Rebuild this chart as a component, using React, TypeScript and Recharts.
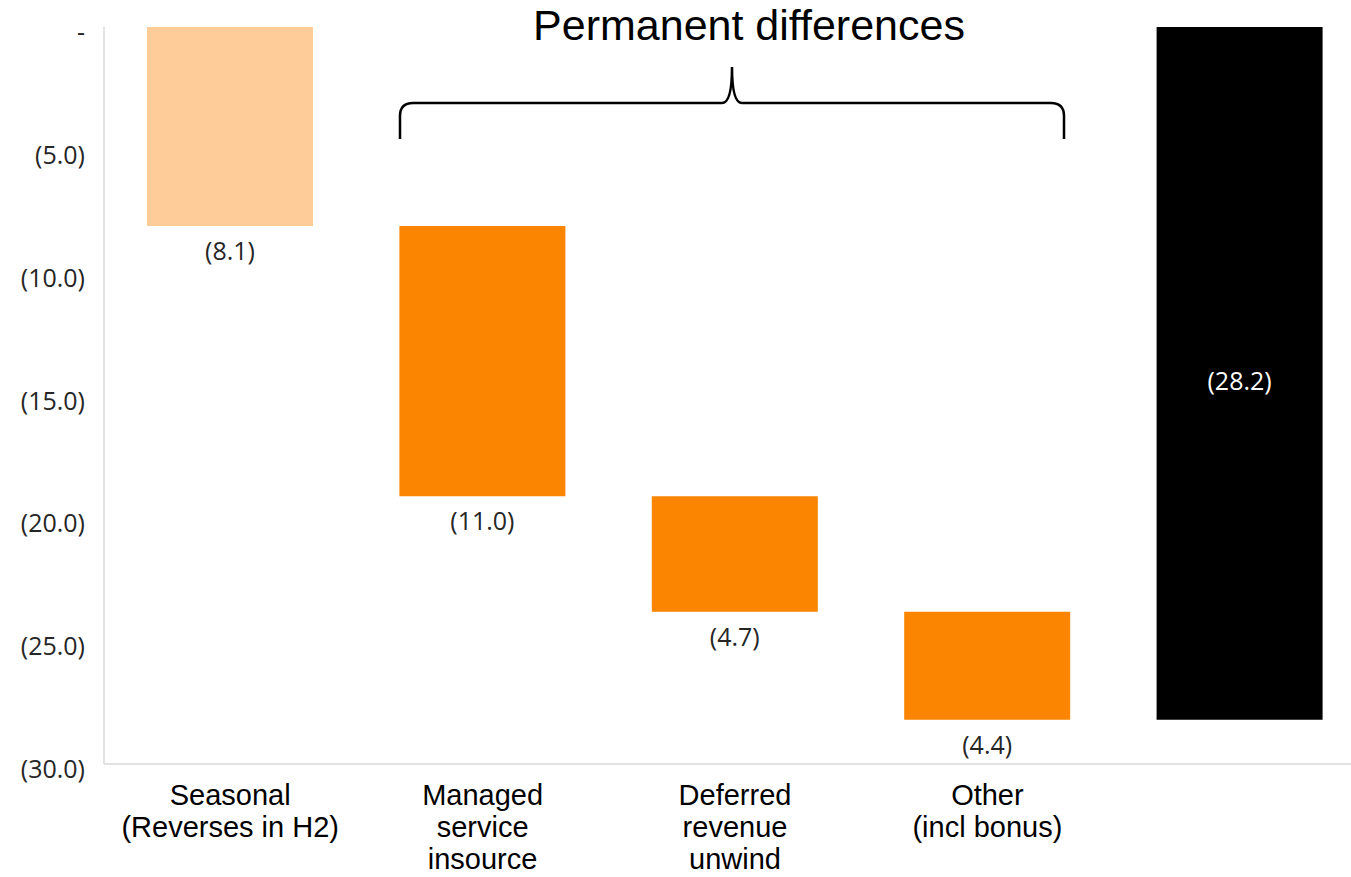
import React from "react";
import { BarChart, Bar, XAxis, YAxis, Cell, LabelList } from "recharts";

const categories = [
  "Seasonal\n(Reverses in H2)",
  "Managed\nservice\ninsource",
  "Deferred\nrevenue\nunwind",
  "Other\n(incl bonus)",
  "",
];
const baseValues = [0, -8.1, -19.1, -23.8, 0];
const deltaValues = [-8.1, -11.0, -4.7, -4.4, -28.2];
const barColors = ["#FDCC99", "#FB8500", "#FB8500", "#FB8500", "#000000"];
const yTicks = [0, -5, -10, -15, -20, -25, -30];
const annotationTitle = "Permanent differences";

const data = categories.map((c, i) => ({
  name: c,
  base: baseValues[i],
  delta: deltaValues[i],
}));

const fmt = (v: number) => (v === 0 ? "-" : `(${Math.abs(v).toFixed(1)})`);

const YTick = (props: any) => {
  const { x, y, payload } = props;
  return (
    <text
      x={x}
      y={y}
      dy={14}
      textAnchor="end"
      fontFamily="'Open Sans', sans-serif"
      fontSize={25}
      fill="#262626"
    >
      {fmt(payload.value)}
    </text>
  );
};

const XTick = (props: any) => {
  const { x, y, payload } = props;
  const lines = String(payload.value).split("\n").filter((l) => l.length);
  return (
    <text
      x={x}
      y={y}
      textAnchor="middle"
      fontFamily="'Liberation Sans', Arial, sans-serif"
      fontSize={29}
      fill="#000"
    >
      {lines.map((l, i) => (
        <tspan key={i} x={x} y={y + 41 + i * 32}>
          {l}
        </tspan>
      ))}
    </text>
  );
};

const BarLabel = (props: any) => {
  const { x, y, width, height, index } = props;
  const top = Math.min(y, y + height);
  const bottom = Math.max(y, y + height);
  const cx = x + width / 2;
  const text = fmt(deltaValues[index]);
  if (index === categories.length - 1) {
    return (
      <text
        x={cx}
        y={(top + bottom) / 2 + 17}
        textAnchor="middle"
        fontFamily="'Open Sans', sans-serif"
        fontSize={25}
        fill="#ffffff"
      >
        {text}
      </text>
    );
  }
  return (
    <text
      x={cx}
      y={bottom + 34}
      textAnchor="middle"
      fontFamily="'Open Sans', sans-serif"
      fontSize={25}
      fill="#262626"
    >
      {text}
    </text>
  );
};

export default function App() {
  return (
    <div
      style={{
        position: "absolute",
        left: 0,
        top: 0,
        width: 1351,
        height: 877,
        overflow: "hidden",
        background: "#fff",
      }}
    >
      <BarChart
        width={1366}
        height={877}
        data={data}
        margin={{ top: 27, right: 0, bottom: 0, left: 0 }}
      >
        <XAxis
          dataKey="name"
          height={113}
          tick={<XTick />}
          tickLine={false}
          tickSize={0}
          tickMargin={0}
          interval={0}
          axisLine={{ stroke: "#d9d9d9", strokeWidth: 1.5 }}
        />
        <YAxis
          width={104}
          domain={[-30, 0]}
          ticks={yTicks}
          tick={<YTick />}
          tickLine={false}
          tickSize={0}
          tickMargin={19}
          interval={0}
          axisLine={{ stroke: "#d9d9d9", strokeWidth: 1.5 }}
          allowDataOverflow
        />
        <Bar dataKey="base" stackId="w" fill="transparent" barSize={166} isAnimationActive={false} />
        <Bar dataKey="delta" stackId="w" barSize={166} isAnimationActive={false}>
          {data.map((d, i) => (
            <Cell key={i} fill={barColors[i]} />
          ))}
          <LabelList dataKey="delta" content={<BarLabel />} />
        </Bar>
      </BarChart>
      <svg
        width={1351}
        height={877}
        style={{ position: "absolute", left: 0, top: 0, pointerEvents: "none" }}
      >
        <path
          d="M 400 139 L 400 116 Q 400 103 413 103 L 722 103 Q 732 103 732 67 Q 732 103 742 103 L 1051 103 Q 1064 103 1064 116 L 1064 139"
          fill="none"
          stroke="#000"
          strokeWidth={2.5}
        />
        <text
          x={749}
          y={40}
          textAnchor="middle"
          fontFamily="'Liberation Sans', Arial, sans-serif"
          fontSize={43}
          fill="#000"
        >
          {annotationTitle}
        </text>
      </svg>
    </div>
  );
}
